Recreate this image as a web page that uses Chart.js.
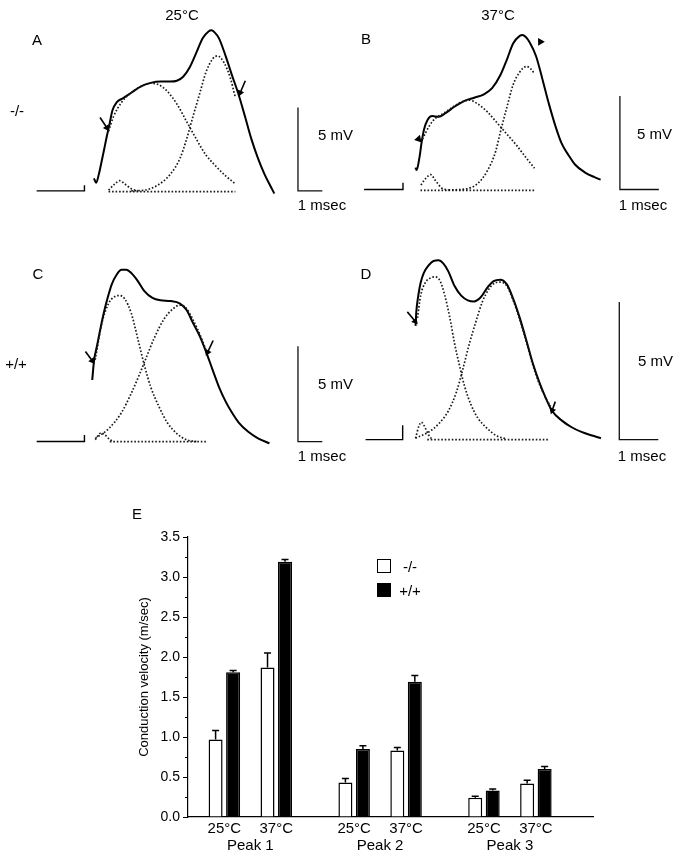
<!DOCTYPE html>
<html>
<head>
<meta charset="utf-8">
<script src="https://cdn.jsdelivr.net/npm/chart.js@4.4.1/dist/chart.umd.min.js"></script>
<style>
body { margin: 0; background: #fff; }
#page { position: relative; width: 677px; height: 853px; overflow: hidden; font-family: "Liberation Sans", Arial, sans-serif; color: #000; }
canvas { position: absolute; }
.t { position: absolute; font-size: 15px; line-height: 1; white-space: nowrap; transform: translate(-50%, -50%); }
.l { transform: translate(0, -50%); }
.sq { position: absolute; width: 14px; height: 14px; box-sizing: border-box; border: 1.5px solid #000; }
</style>
</head>
<body>
<div id="page">
  <canvas id="pA" width="320" height="195" style="left:20px;top:20px"></canvas>
  <canvas id="pB" width="330" height="195" style="left:345px;top:20px"></canvas>
  <canvas id="pC" width="320" height="215" style="left:20px;top:245px"></canvas>
  <canvas id="pD" width="330" height="215" style="left:345px;top:245px"></canvas>
  <canvas id="bars" width="677" height="363" style="left:0;top:490px"></canvas>

  <div class="t" style="left:182px;top:14px">25°C</div>
  <div class="t" style="left:498px;top:14px">37°C</div>
  <div class="t" style="left:37px;top:39px">A</div>
  <div class="t" style="left:366px;top:38px">B</div>
  <div class="t" style="left:38px;top:273px">C</div>
  <div class="t" style="left:366px;top:273px">D</div>
  <div class="t" style="left:17px;top:110px">-/-</div>
  <div class="t" style="left:16px;top:363px">+/+</div>
  <div class="t l" style="left:318px;top:134px">5 mV</div>
  <div class="t l" style="left:637px;top:133px">5 mV</div>
  <div class="t l" style="left:318px;top:383px">5 mV</div>
  <div class="t l" style="left:638px;top:360px">5 mV</div>
  <div class="t" style="left:322px;top:204px">1 msec</div>
  <div class="t" style="left:643px;top:204px">1 msec</div>
  <div class="t" style="left:322px;top:455px">1 msec</div>
  <div class="t" style="left:642px;top:455px">1 msec</div>
  <div class="t" style="left:137px;top:513px">E</div>
  <div class="sq" style="left:377px;top:559px;background:#fff"></div>
  <div class="sq" style="left:377px;top:583px;background:#000"></div>
  <div class="t" style="left:410px;top:566px">-/-</div>
  <div class="t" style="left:410px;top:590px">+/+</div>
</div>
<script>
// ---- panel traces: [time (ms), amplitude (mV)] ----
const stimA = [[0, 0], [1.96, 0], [1.96, 0.34]];
const traceA = [[2.35, 0.75], [2.44, 0.48], [2.55, 0.99], [2.61, 1.38], [2.75, 2.36], [2.88, 3.29], [2.97, 3.87], [3.11, 4.83], [3.28, 5.3], [3.55, 5.56], [3.88, 5.88], [4.28, 6.26], [4.68, 6.47], [5.08, 6.55], [5.48, 6.55], [5.75, 6.6], [6.01, 6.84], [6.28, 7.41], [6.55, 8.28], [6.81, 9.14], [7.05, 9.55], [7.17, 9.62], [7.3, 9.5], [7.48, 9.14], [7.75, 8.09], [8.01, 6.94], [8.28, 5.79], [8.55, 4.44], [8.81, 3.1], [9.08, 1.95], [9.35, 0.99], [9.61, 0.23], [9.75, -0.16]];
const fitA1 = [[2.95, 0.04], [3.21, 0.42], [3.41, 0.61], [3.61, 0.42], [3.88, 0.13], [4.15, 0]];
const fitA2 = [[2.95, 3.58], [3.15, 4.44], [3.48, 5.3], [3.88, 5.88], [4.28, 6.26], [4.68, 6.45], [5.01, 6.36], [5.35, 5.98], [5.75, 5.21], [6.15, 4.16], [6.55, 3.1], [6.95, 2.14], [7.35, 1.48], [7.75, 0.9], [8.15, 0.42]];
const fitA3 = [[3.88, 0], [4.41, 0.04], [4.95, 0.33], [5.48, 0.99], [5.88, 1.95], [6.15, 3.1], [6.41, 4.44], [6.68, 5.79], [6.95, 7.13], [7.21, 7.89], [7.41, 8.09], [7.68, 7.7], [7.95, 6.74], [8.15, 5.59]];
const baseA = [[2.95, -0.05], [8.15, -0.05]];
const arrowsA = [[[2.6, 4.4], [2.88, 3.78]], [[8.56, 6.6], [8.35, 5.88]]];

const stimB = [[0, 0], [1.0, 0], [1.0, 0.36]];
const traceB = [[1.32, 1.17], [1.35, 1.04], [1.42, 1.68], [1.48, 2.54], [1.54, 3.21], [1.63, 3.72], [1.75, 3.93], [1.92, 3.89], [2.08, 4.07], [2.33, 4.44], [2.58, 4.74], [2.83, 4.91], [3.08, 5.09], [3.29, 5.42], [3.5, 6.11], [3.67, 6.95], [3.83, 7.81], [4.0, 8.22], [4.07, 8.27], [4.15, 8.17], [4.25, 7.89], [4.42, 7.13], [4.58, 5.93], [4.75, 4.58], [4.92, 3.38], [5.08, 2.45], [5.25, 1.85], [5.42, 1.34], [5.67, 0.92], [5.92, 0.66], [6.08, 0.53]];
const fitB1 = [[1.46, 0.24], [1.58, 0.58], [1.71, 0.8], [1.83, 0.49], [2.0, 0.07], [2.17, -0.02]];
const fitB2 = [[1.5, 2.7], [1.67, 3.38], [1.83, 3.81], [2.04, 4.07], [2.33, 4.49], [2.58, 4.74], [2.71, 4.78], [2.92, 4.58], [3.17, 4.15], [3.42, 3.56], [3.67, 2.96], [3.92, 2.36], [4.17, 1.68], [4.38, 1.14]];
const fitB3 = [[2.17, -0.02], [2.58, 0.02], [2.92, 0.32], [3.17, 1.01], [3.38, 2.03], [3.5, 3.05], [3.67, 4.4], [3.83, 5.6], [4.0, 6.28], [4.17, 6.58], [4.29, 6.44], [4.38, 6.19]];
const baseB = [[1.45, -0.05], [4.38, -0.05]];
const arrowsB = [[[1.25, 3.04], [1.4, 2.7]], [[4.6, 8.15], [4.53, 7.9]]];

const stimC = [[0, 0], [1.96, 0], [1.96, 0.35]];
const traceC = [[2.28, 3.23], [2.35, 4.21], [2.48, 5.05], [2.61, 5.89], [2.75, 6.73], [2.92, 7.58], [3.08, 8.25], [3.28, 8.75], [3.48, 9.01], [3.68, 9.01], [3.88, 8.84], [4.15, 8.42], [4.41, 7.91], [4.75, 7.54], [5.08, 7.41], [5.48, 7.37], [5.88, 7.24], [6.15, 6.9], [6.41, 6.23], [6.68, 5.56], [6.95, 4.71], [7.21, 3.79], [7.48, 2.86], [7.75, 2.11], [8.01, 1.52], [8.28, 1.01], [8.68, 0.51], [9.08, 0.17], [9.55, -0.09]];
const fitC1 = [[2.4, 0.1], [2.64, 0.45], [2.8, 0.35], [3.0, 0.1], [3.16, 0]];
const fitC2 = [[2.4, 4.29], [2.68, 6.23], [2.95, 7.24], [3.21, 7.61], [3.41, 7.66], [3.61, 7.49], [3.88, 6.73], [4.15, 5.39], [4.41, 4.04], [4.68, 2.86], [5.01, 1.85], [5.35, 1.01], [5.75, 0.42], [6.15, 0.09], [6.55, 0]];
const fitC3 = [[2.41, 0.17], [2.95, 0.67], [3.48, 1.52], [3.88, 2.53], [4.21, 3.5], [4.48, 4.35], [4.81, 5.39], [5.21, 6.4], [5.61, 6.98], [5.88, 7.16], [6.15, 6.98], [6.41, 6.4], [6.68, 5.66], [6.95, 4.8]];
const baseC = [[3.0, 0], [7.0, 0]];
const arrowsC = [[[2.0, 4.72], [2.28, 4.24]], [[7.24, 5.3], [7.01, 4.68]]];

const stimD = [[0, 0], [0.95, 0], [0.95, 0.52]];
const traceD = [[1.28, 4.13], [1.3, 4.65], [1.35, 5.23], [1.41, 5.7], [1.49, 6.05], [1.62, 6.34], [1.74, 6.49], [1.87, 6.51], [1.99, 6.4], [2.12, 6.11], [2.28, 5.58], [2.45, 5.23], [2.62, 5.06], [2.78, 5.02], [2.95, 5.17], [3.12, 5.52], [3.28, 5.76], [3.45, 5.81], [3.62, 5.64], [3.78, 5.12], [3.95, 4.42], [4.12, 3.6], [4.28, 2.79], [4.45, 2.09], [4.62, 1.5], [4.78, 1.04], [5.03, 0.69], [5.28, 0.45], [5.53, 0.28], [5.78, 0.16], [6.03, 0.05]];
const fitD1 = [[1.28, 0.05], [1.37, 0.51], [1.43, 0.63], [1.52, 0.45], [1.62, 0.16], [1.7, 0.01]];
const fitD2 = [[1.33, 4.42], [1.41, 5.23], [1.53, 5.7], [1.66, 5.87], [1.78, 5.91], [1.91, 5.76], [2.03, 5.23], [2.16, 4.42], [2.28, 3.49], [2.41, 2.67], [2.53, 1.97], [2.7, 1.27], [2.87, 0.8], [3.12, 0.4], [3.37, 0.13], [3.62, 0.03]];
const fitD3 = [[1.28, 0.05], [1.62, 0.28], [1.87, 0.57], [2.12, 1.04], [2.33, 1.74], [2.49, 2.55], [2.66, 3.49], [2.83, 4.3], [2.99, 5.0], [3.16, 5.47], [3.33, 5.7], [3.45, 5.72], [3.62, 5.58], [3.78, 5.06], [3.95, 4.36], [4.12, 3.54], [4.28, 2.73], [4.45, 2.03], [4.62, 1.5], [4.74, 1.21]];
const baseD = [[1.58, 0], [4.7, 0]];
const arrowsD = [[[1.07, 4.64], [1.27, 4.3]], [[4.86, 1.38], [4.78, 1.06]]];

// scale bars: 1 ms x 5 mV, starting time of each bar
const barStartA = 10.72, barStartB = 6.575, barStartC = 10.72, barStartD = 6.5;

// ---- panel E: conduction velocity (m/sec) ----
const peaks = ['Peak 1', 'Peak 2', 'Peak 3'];
const temps = ['25°C', '37°C', '25°C', '37°C', '25°C', '37°C'];
const koMean = [0.97, 1.87, 0.43, 0.83, 0.24, 0.42];
const koErr = [0.11, 0.18, 0.05, 0.04, 0.02, 0.04];
const wtMean = [1.81, 3.19, 0.85, 1.69, 0.33, 0.60];
const wtErr = [0.02, 0.03, 0.04, 0.08, 0.02, 0.03];

// layout: where each panel's time/voltage origin sits on the page
const panelA = { left: 20, top: 20, w: 320, h: 195, x0: 33, y0: 194, pxMs: 25, pxMv: 17.4 };
const panelB = { left: 345, top: 20, w: 330, h: 195, x0: 360, y0: 193, pxMs: 40, pxMv: 19.6 };
const panelC = { left: 20, top: 245, w: 320, h: 215, x0: 33, y0: 445, pxMs: 25, pxMv: 19.8 };
const panelD = { left: 345, top: 245, w: 330, h: 215, x0: 362, y0: 443, pxMs: 40, pxMv: 28.6 };
const slotPos = [1, 2, 3.5, 4.5, 6, 7];
const peakPos = [1.5, 4, 6.5];

Chart.defaults.font.family = '"Liberation Sans", Arial, sans-serif';
Chart.defaults.color = '#000';

const toXY = pts => pts.map(([x, y]) => ({ x, y }));

function drawPanel(id, p, trace, fits, base, stim, barStart, arrows, headsOnly) {
  const dotted = { borderColor: '#1a1a1a', borderWidth: 1.7, borderDash: [1.6, 1.9], pointRadius: 0 };
  const datasets = [];
  fits.forEach(f => datasets.push({ ...dotted, data: toXY(f), cubicInterpolationMode: 'monotone' }));
  datasets.push({ ...dotted, data: toXY(base) });
  datasets.push({ data: toXY(trace), borderColor: '#000', borderWidth: 2, pointRadius: 0, cubicInterpolationMode: 'monotone' });
  datasets.push({ data: toXY(stim), borderColor: '#000', borderWidth: 1.4, pointRadius: 0 });
  datasets.push({ data: toXY([[barStart, 5], [barStart, 0], [barStart + 1, 0]]), borderColor: '#111', borderWidth: 1.3, pointRadius: 0 });
  arrows.forEach(a => {
    const dx = (a[1][0] - a[0][0]) * p.pxMs;
    const dy = -(a[1][1] - a[0][1]) * p.pxMv;
    datasets.push({
      data: toXY(a), borderColor: '#000', borderWidth: 1.6, showLine: !headsOnly,
      pointRadius: [0, headsOnly ? 4.5 : 4], pointStyle: 'triangle',
      pointRotation: Math.atan2(dx, -dy) * 180 / Math.PI,
      pointBackgroundColor: '#000', pointBorderColor: '#000', pointBorderWidth: 0
    });
  });
  new Chart(document.getElementById(id), {
    type: 'line',
    data: { datasets },
    options: {
      responsive: false, animation: false, events: [],
      plugins: { legend: { display: false }, tooltip: { enabled: false } },
      scales: {
        x: { type: 'linear', display: false, min: (p.left - p.x0) / p.pxMs, max: (p.left + p.w - p.x0) / p.pxMs },
        y: { type: 'linear', display: false, min: (p.y0 - p.top - p.h) / p.pxMv, max: (p.y0 - p.top) / p.pxMv }
      }
    }
  });
}

drawPanel('pA', panelA, traceA, [fitA1, fitA2, fitA3], baseA, stimA, barStartA, arrowsA, false);
drawPanel('pB', panelB, traceB, [fitB1, fitB2, fitB3], baseB, stimB, barStartB, arrowsB, true);
drawPanel('pC', panelC, traceC, [fitC1, fitC2, fitC3], baseC, stimC, barStartC, arrowsC, false);
drawPanel('pD', panelD, traceD, [fitD1, fitD2, fitD3], baseD, stimD, barStartD, arrowsD, false);

// error bars (upward only) on top of each bar
const errorBars = {
  id: 'errorBars',
  afterDatasetsDraw(chart) {
    const ctx = chart.ctx, y = chart.scales.y;
    ctx.save();
    ctx.strokeStyle = '#000';
    ctx.lineWidth = 1.5;
    chart.data.datasets.forEach((ds, i) => {
      chart.getDatasetMeta(i).data.forEach((bar, j) => {
        const top = y.getPixelForValue(ds.data[j].y + ds.errors[j]);
        ctx.beginPath();
        ctx.moveTo(bar.x, bar.y);
        ctx.lineTo(bar.x, top);
        ctx.moveTo(bar.x - 3.5, top);
        ctx.lineTo(bar.x + 3.5, top);
        ctx.stroke();
      });
    });
    ctx.restore();
  }
};

// minor ticks between the labelled ones on the y axis
const minorTicks = {
  id: 'minorTicks',
  afterDraw(chart) {
    const ctx = chart.ctx, y = chart.scales.y, x0 = chart.chartArea.left;
    ctx.save();
    ctx.strokeStyle = '#000';
    ctx.lineWidth = 1;
    ctx.beginPath();
    for (let v = 0.25; v < 3.5; v += 0.5) {
      const py = Math.round(y.getPixelForValue(v)) + 0.5;
      ctx.moveTo(x0 - 3, py);
      ctx.lineTo(x0, py);
    }
    ctx.stroke();
    ctx.restore();
  }
};

const barOpts = { borderColor: '#000', borderWidth: 1.5, categoryPercentage: 0.674, barPercentage: 0.8 };

new Chart(document.getElementById('bars'), {
  type: 'bar',
  data: {
    datasets: [
      { ...barOpts, label: '-/-', data: slotPos.map((x, i) => ({ x, y: koMean[i] })), errors: koErr, backgroundColor: '#fff' },
      { ...barOpts, label: '+/+', data: slotPos.map((x, i) => ({ x, y: wtMean[i] })), errors: wtErr, backgroundColor: '#000' }
    ]
  },
  options: {
    responsive: false, animation: false, events: [],
    layout: { padding: { left: 130, right: 84, top: 47, bottom: 0 } },
    plugins: { legend: { display: false }, tooltip: { enabled: false } },
    scales: {
      x: {
        type: 'linear', min: 0.3, max: 8.1, offset: false, weight: 0,
        grid: { display: false, drawTicks: false },
        border: { display: true, color: '#000', width: 1.2 },
        afterBuildTicks: s => { s.ticks = slotPos.map(v => ({ value: v })); },
        ticks: { autoSkip: false, maxRotation: 0, padding: 3, font: { size: 15 }, callback: (v, i) => temps[i] },
        afterFit: s => { s.height = 19; }
      },
      x2: {
        type: 'linear', position: 'bottom', min: 0.3, max: 8.1, offset: false, weight: 1,
        grid: { display: false, drawTicks: false },
        border: { display: false },
        afterBuildTicks: s => { s.ticks = peakPos.map(v => ({ value: v })); },
        ticks: { autoSkip: false, maxRotation: 0, padding: 1, font: { size: 15 }, callback: (v, i) => peaks[i] },
        afterFit: s => { s.height = 17; }
      },
      y: {
        min: 0, max: 3.5,
        ticks: { stepSize: 0.5, padding: 3, font: { size: 14 }, callback: v => v.toFixed(1) },
        grid: { drawOnChartArea: false, drawTicks: true, tickLength: 5, color: '#000', tickColor: '#000' },
        border: { display: true, color: '#000', width: 1.2 },
        title: { display: true, text: 'Conduction velocity (m/sec)', font: { size: 13 }, padding: { top: 7, bottom: 0 } },
        afterFit: s => { s.width = 58; }
      }
    }
  },
  plugins: [errorBars, minorTicks]
});
</script>
</body>
</html>
